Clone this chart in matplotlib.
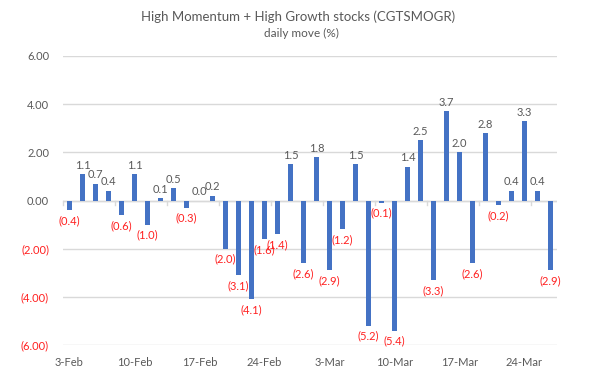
import matplotlib
matplotlib.use("Agg")
import matplotlib.pyplot as plt
import numpy as np

plt.rcParams['font.family'] = ['Lato', 'DejaVu Sans']

title = "High Momentum + High Growth stocks (CGTSMOGR)"
subtitle = "daily move (%)"
values = [-0.4, 1.1, 0.7, 0.4, -0.6, 1.1, -1.0, 0.1, 0.5, -0.3,
          0.0, 0.2, -2.0, -3.1, -4.1, -1.6, -1.4, 1.5, -2.6, 1.8,
          -2.9, -1.2, 1.5, -5.2, -0.1, -5.4, 1.4, 2.5, -3.3, 3.7,
          2.0, -2.6, 2.8, -0.2, 0.4, 3.3, 0.4, -2.9]
xlabels = ["3-Feb", "10-Feb", "17-Feb", "24-Feb", "3-Mar", "10-Mar", "17-Mar", "24-Mar"]
yticks = [-6, -4, -2, 0, 2, 4, 6]

BAR = "#4472C4"
GRAY = "#595959"
RED = "#FF2020"
GRID = "#D9D9D9"

fig = plt.figure(figsize=(5.96, 3.78), dpi=100)
ax = fig.add_axes([63/596, 1-345/378, (557-63)/596, (345-56)/378])

n = len(values)
x = np.arange(n)
ax.bar(x, values, width=0.33, color=BAR, zorder=3)
ax.set_xlim(-0.5, n - 0.5)
ax.set_ylim(-6, 6)

# gridlines
ax.set_yticks(yticks)
ax.yaxis.grid(True, color=GRID, linewidth=1, zorder=0)
ax.set_yticklabels([f"{v:.2f}" if v >= 0 else f"({abs(v):.2f})" for v in yticks], fontsize=8)
for lbl, v in zip(ax.get_yticklabels(), yticks):
    lbl.set_color(GRAY if v >= 0 else RED)
ax.tick_params(axis='y', length=0, pad=10)

# x tick labels every 5 categories at the bottom
ax.set_xticks(np.arange(0, n, 5)[:len(xlabels)])
ax.set_xticklabels(xlabels, fontsize=8, color=GRAY)
ax.tick_params(axis='x', length=0, pad=9)

for s in ax.spines.values():
    s.set_visible(False)

# zero axis line with tick marks every 4 categories
ax.axhline(0, color=GRID, linewidth=1, zorder=2)
for t in np.arange(-0.5, n, 4):
    ax.plot([t, t], [0, -0.17], color=GRID, linewidth=1, zorder=2, clip_on=False)

# data labels
for xi, v in zip(x, values):
    if v >= 0:
        ax.annotate(f"{v:.1f}", (xi, v), xytext=(0, 2.5), textcoords='offset points',
                    ha='center', va='bottom', fontsize=8, color=GRAY, zorder=4)
    else:
        ax.annotate(f"({abs(v):.1f})", (xi, v), xytext=(0, -3.5), textcoords='offset points',
                    ha='center', va='top', fontsize=8, color=RED, zorder=4)

fig.text(0.5, 1-17/378, title, ha='center', va='center', fontsize=9.5, color=GRAY)
fig.text(0.505, 1-33/378, subtitle, ha='center', va='center', fontsize=8.5, color=GRAY)

fig.savefig("out.png", dpi=100)
